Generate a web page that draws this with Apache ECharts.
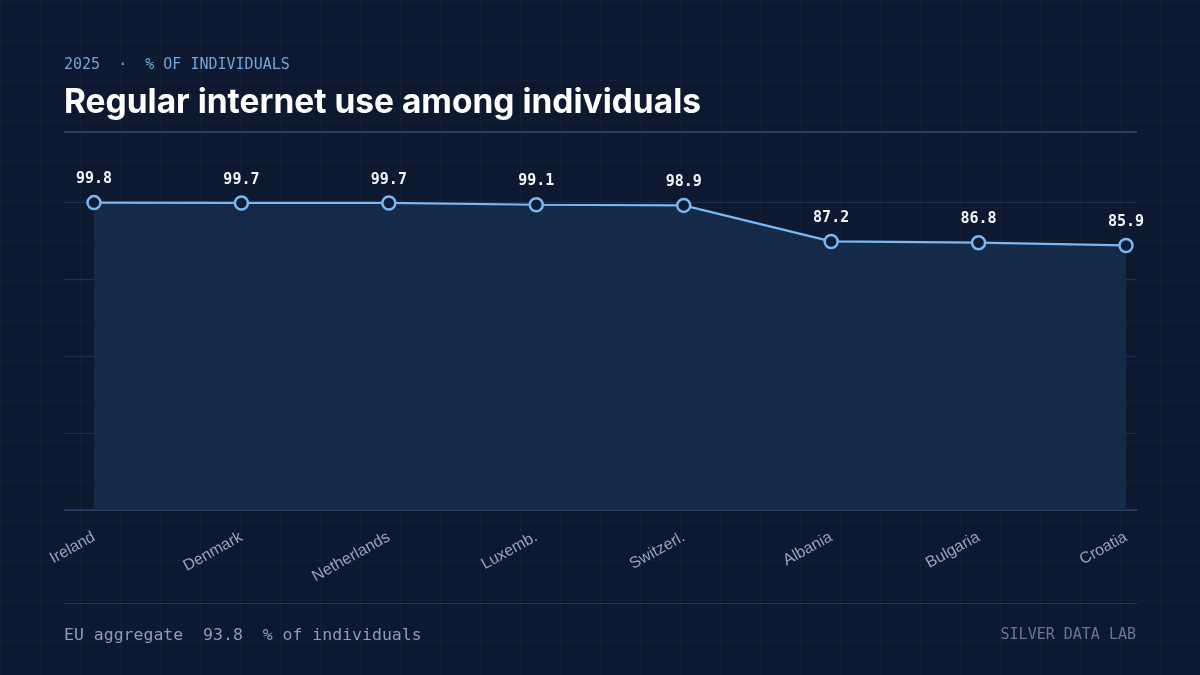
<!DOCTYPE html>
<html lang="en">
<head>
<meta charset="utf-8" />
<title>Regular internet use among individuals</title>
<script src="https://cdn.jsdelivr.net/npm/echarts@6/dist/echarts.min.js"></script>
<style>
  html, body { margin: 0; padding: 0; }
  body {
    width: 1200px; height: 675px; overflow: hidden;
    background-color: #0d1930;
    background-image:
      linear-gradient(rgba(255,255,255,0.025) 1px, transparent 1px),
      linear-gradient(90deg, rgba(255,255,255,0.025) 1px, transparent 1px);
    background-size: 40px 40px;
  }
  #chart { width: 1200px; height: 675px; }
</style>
</head>
<body>
<div id="chart"></div>
<script>
// data
var countries = ['Ireland', 'Denmark', 'Netherlands', 'Luxemb.', 'Switzerl.', 'Albania', 'Bulgaria', 'Croatia'];
var usage = [99.8, 99.7, 99.7, 99.1, 98.9, 87.2, 86.8, 85.9];
var euAggregate = 93.8;
var yTicks = [0, 25, 50, 75, 100];

var mono = '"DejaVu Sans Mono", "Liberation Mono", monospace';
var sans = '"Liberation Sans", Arial, sans-serif';

var chart = echarts.init(document.getElementById('chart'), null, { renderer: 'canvas' });

var yMin = yTicks[0], yMax = yTicks[yTicks.length - 1], yStep = yTicks[1] - yTicks[0];

chart.setOption({
  backgroundColor: 'transparent',
  animation: false,
  grid: [
    // frame grid: split lines + base line across the full content width
    { left: 64, right: 63, top: 202, bottom: 165 },
    // data grid
    { left: 94, right: 74, top: 202, bottom: 165 }
  ],
  xAxis: [
    {
      gridIndex: 0, type: 'category', data: [''], boundaryGap: false,
      axisLine: { show: true, lineStyle: { color: '#2c4066', width: 1.5 } },
      axisTick: { show: false }, axisLabel: { show: false }, splitLine: { show: false }
    },
    {
      gridIndex: 1, type: 'category', data: countries, boundaryGap: false,
      axisLine: { show: false }, axisTick: { show: false }, splitLine: { show: false },
      axisLabel: {
        rotate: 29, margin: 26, color: '#94a5bf', fontFamily: sans, fontSize: 16,
        interval: 0
      }
    }
  ],
  yAxis: [
    {
      gridIndex: 0, type: 'value', min: yMin, max: yMax, interval: yStep,
      axisLine: { show: false }, axisTick: { show: false }, axisLabel: { show: false },
      splitLine: { show: true, lineStyle: { color: '#1f3150', width: 1 } }
    },
    {
      gridIndex: 1, type: 'value', min: yMin, max: yMax, interval: yStep,
      axisLine: { show: false }, axisTick: { show: false }, axisLabel: { show: false },
      splitLine: { show: false }
    }
  ],
  series: [{
    type: 'line',
    xAxisIndex: 1, yAxisIndex: 1,
    data: usage,
    symbol: 'circle',
    symbolSize: 13,
    itemStyle: { color: '#0f1d36', borderColor: '#7ab8f2', borderWidth: 2.5 },
    lineStyle: { color: '#7ab8f2', width: 2.2 },
    areaStyle: { color: '#152a49', opacity: 1 },
    label: {
      show: true, position: 'top', distance: 8,
      color: '#f2f5fa', fontFamily: mono, fontWeight: 'bold', fontSize: 15,
      formatter: function (p) { return p.value.toFixed(1); }
    },
    z: 3
  }],
  graphic: [
    {
      type: 'text', left: 64, top: 58,
      style: { text: '2025  \u00b7  % OF INDIVIDUALS', fill: '#6fa6dc', font: '15px ' + mono }
    },
    {
      type: 'text', left: 64, top: 86,
      style: { text: 'Regular internet use among individuals', fill: '#ffffff', font: 'bold 33.5px Inter, "Noto Sans", sans-serif' }
    },
    {
      type: 'rect', shape: { x: 64, y: 131, width: 1073, height: 2 },
      style: { fill: '#2a3d61' }
    },
    {
      type: 'rect', shape: { x: 64, y: 603, width: 1073, height: 1 },
      style: { fill: '#24365a' }
    },
    {
      type: 'text', left: 64, top: 627,
      style: { text: 'EU aggregate  ' + euAggregate.toFixed(1) + '  % of individuals', fill: '#8f9db5', font: '16.5px ' + mono }
    },
    {
      type: 'text', right: 64, top: 628,
      style: { text: 'SILVER DATA LAB', fill: '#67789a', font: '15px ' + mono }
    }
  ]
});
</script>
</body>
</html>
